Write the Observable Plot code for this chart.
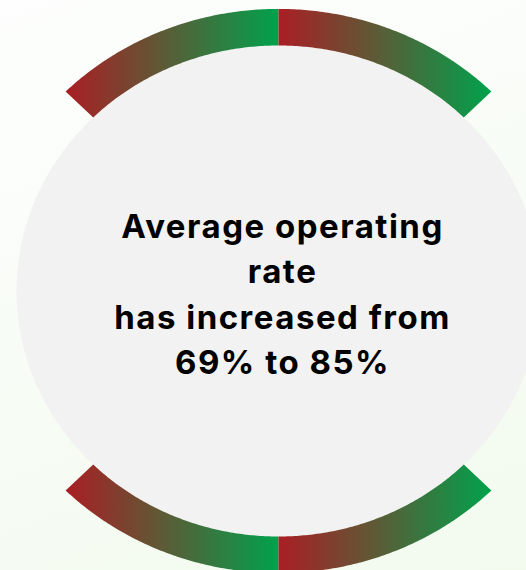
<!DOCTYPE html>
<html><head><meta charset="utf-8">
<script src="https://cdn.jsdelivr.net/npm/d3@7"></script>
<script src="https://cdn.jsdelivr.net/npm/@observablehq/plot@0.6"></script>
<style>
html,body{margin:0;padding:0;}
body{width:526px;height:570px;overflow:hidden;background:linear-gradient(160deg,#fdfefd 0%,#f7fcf5 55%,#f2faee 100%);}
</style></head><body><div id="chart"></div>
<script>
// Data
const rateFrom = 69, rateTo = 85;
const headline = ["Average operating", "rate", "has increased from", `${rateFrom}% to ${rateTo}%`];
const arcNames = ["top-left", "top-right", "bottom-left", "bottom-right"];
const arcStartDeg = [90, 45, 225, 270];
const arcEndDeg = [135, 90, 270, 315];

const innerR = 1, outerR = 1.149;
const steps = 90;
const arcPts = [];
arcNames.forEach((name, i) => {
  const a0 = arcStartDeg[i] * Math.PI / 180, a1 = arcEndDeg[i] * Math.PI / 180;
  for (let k = 0; k <= steps; k++) { const a = a0 + (a1 - a0) * k / steps; arcPts.push({name, x: outerR * Math.cos(a), y: outerR * Math.sin(a)}); }
  for (let k = steps; k >= 0; k--) { const a = a0 + (a1 - a0) * k / steps; arcPts.push({name, x: innerR * Math.cos(a), y: innerR * Math.sin(a)}); }
});
const disc = d3.range(0, 361, 1).map(d => ({x: Math.cos(d * Math.PI / 180), y: Math.sin(d * Math.PI / 180)}));

const plot = Plot.plot({
  width: 526, height: 570, margin: 0,
  style: "background: transparent;",
  x: {domain: [-1, 1], range: [16, 540], axis: null},
  y: {domain: [-1, 1], range: [536, 45], axis: null},
  marks: [
    Plot.line(disc, {x: "x", y: "y", fill: "#f2f2f2", stroke: "none"}),
    Plot.line(arcPts, {x: "x", y: "y", z: "name", fill: "url(#rg)", stroke: "none"}),
    Plot.text([headline.join("\n")], {
      frameAnchor: "middle", dx: 19, dy: 6,
      fontSize: 33, fontWeight: 700, fontFamily: "Inter",
      lineHeight: 1.38, fill: "#000",
      style: "letter-spacing: 1.5px"
    })
  ]
});
d3.select(plot).selectAll("text").style("letter-spacing", "1.5px");
const g = d3.select(plot).insert("defs", ":first-child")
  .append("linearGradient").attr("id", "rg")
  .attr("x1", "0").attr("x2", "1").attr("y1", "0").attr("y2", "0");
g.append("stop").attr("offset", "0%").attr("stop-color", "#aa1e24");
g.append("stop").attr("offset", "100%").attr("stop-color", "#00a24c");
document.getElementById("chart").appendChild(plot);
</script></body></html>
